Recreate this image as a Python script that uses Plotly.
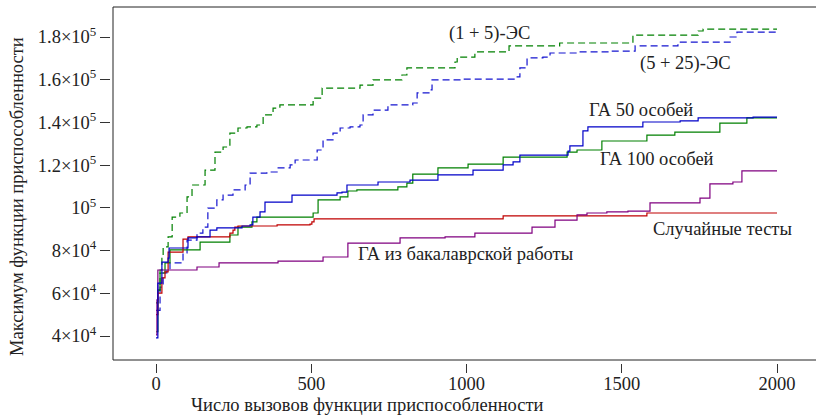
import plotly.graph_objects as go

# ---------------- data ----------------
es15_x = [0, 6, 13, 19, 23, 39, 52, 77, 100, 116, 158, 190, 216, 238, 264, 293, 325, 345, 377, 399,
          506, 535, 657, 699, 792, 808, 963, 970, 1027, 1137, 1300, 1536, 1746, 1762, 2000]
es15_y = [55500, 61500, 70900, 77900, 81700, 86400, 95700, 97600, 105100, 110700, 117700, 126100,
          128500, 135000, 137400, 137900, 138800, 143500, 146700, 148200, 151400, 156100, 157500,
          159900, 162200, 165500, 168300, 170600, 173000, 175800, 177200, 180900, 182800, 183700, 183700]

es525_x = [0, 13, 23, 35, 45, 87, 100, 132, 151, 167, 196, 216, 248, 287, 303, 357, 390, 432, 448,
           519, 538, 570, 593, 625, 657, 667, 699, 747, 827, 841, 882, 889, 989, 1156, 1172, 1195,
           1246, 1269, 1359, 1462, 1543, 1681, 1849, 1871, 2000]
es525_y = [52000, 62900, 69500, 70900, 74200, 78900, 84900, 88200, 91000, 99900, 103700, 106000,
           108400, 110700, 116300, 116800, 118700, 120100, 122400, 127100, 131800, 135000, 137400,
           137900, 138800, 143500, 145800, 148200, 149100, 153800, 155200, 159900, 160300, 161300,
           165500, 170200, 170600, 172500, 173000, 173400, 175800, 177600, 180000, 182300, 182300]

ga50_x = [0, 6, 19, 39, 42, 103, 132, 174, 196, 277, 303, 312, 335, 351, 438, 583, 599, 615, 715,
          818, 908, 1021, 1118, 1150, 1172, 1327, 1333, 1375, 1391, 1568, 1688, 1746, 1923, 2000]
ga50_y = [39100, 64800, 74600, 76500, 81200, 85900, 86400, 89600, 90600, 91500, 92000, 95700,
          98100, 102700, 106000, 107000, 107400, 110700, 112100, 113000, 115400, 117700, 120100,
          121500, 124700, 126600, 129000, 136000, 137900, 140200, 140700, 142100, 142500, 142500]

ga100_x = [0, 6, 13, 29, 45, 142, 238, 264, 309, 325, 506, 522, 593, 618, 647, 779, 808, 827, 908,
           1005, 1118, 1324, 1356, 1436, 1581, 1671, 1816, 1903, 2000]
ga100_y = [42000, 61500, 69500, 74200, 80300, 84000, 87300, 91000, 93400, 95700, 97600, 103700,
           105100, 107900, 108400, 109800, 111600, 115800, 118700, 120500, 123800, 126100, 127100,
           131300, 134100, 135500, 139700, 142100, 142100]

rnd_x = [0, 6, 19, 29, 39, 87, 103, 238, 248, 254, 264, 390, 496, 502, 509, 1118, 1581, 2000]
rnd_y = [50000, 60100, 67200, 70000, 79300, 85400, 86400, 88200, 89600, 91000, 91500, 92000,
         92400, 93400, 94800, 96200, 97600, 97600]

bach_x = [0, 3, 6, 132, 203, 393, 538, 618, 786, 931, 1027, 1211, 1285, 1356, 1388, 1452, 1520,
          1591, 1752, 1784, 1858, 1887, 2000]
bach_y = [40500, 56900, 70900, 72300, 74200, 75100, 77000, 83500, 85900, 86400, 88200, 91000,
          94300, 96700, 97600, 98100, 98500, 102300, 104600, 111200, 112100, 117300, 117300]

x_ticks = [0, 500, 1000, 1500, 2000]
y_ticks = [40000, 60000, 80000, 100000, 120000, 140000, 160000, 180000]
y_ticklabels = ["4×10<sup>4</sup>", "6×10<sup>4</sup>", "8×10<sup>4</sup>", "10<sup>5</sup>",
                "1.2×10<sup>5</sup>", "1.4×10<sup>5</sup>", "1.6×10<sup>5</sup>", "1.8×10<sup>5</sup>"]

labels = ["(1 + 5)-ЭС", "(5 + 25)-ЭС", "ГА 50 особей", "ГА 100 особей",
          "Случайные тесты", "ГА из бакалаврской работы"]

# ---------------- figure ----------------
W, H = 816, 415
FONT = "Liberation Serif"
FS = 18.5


def px(x):
    return x / W


def py(y):
    return 1 - y / H


series = [
    (es15_x, es15_y, "#008000", "7px,4px"),
    (es525_x, es525_y, "#1515d0", "7px,4px"),
    (ga100_x, ga100_y, "#008000", "solid"),
    (rnd_x, rnd_y, "#c00000", "solid"),
    (bach_x, bach_y, "#800080", "solid"),
    (ga50_x, ga50_y, "#0000c8", "solid"),
]

fig = go.Figure()
for xs, ys, col, dash in series:
    fig.add_trace(go.Scatter(x=xs, y=ys, mode="lines", line_shape="hv",
                             line=dict(color=col, width=1.2, dash=dash),
                             showlegend=False, hoverinfo="skip"))

# plot-area geometry (pixels)
L, R, T, B = 113, 816, 7, 360

fig.update_layout(
    width=W, height=H,
    margin=dict(l=0, r=0, t=0, b=0),
    paper_bgcolor="white", plot_bgcolor="white",
    font=dict(family=FONT, size=FS, color="#222"),
    xaxis=dict(domain=[px(L), px(R)], range=[-138.5, 2125.6],
               tickvals=x_ticks, ticktext=[str(v) for v in x_ticks],
               ticks="outside", ticklen=9, tickwidth=1, tickcolor="#333",
               ticklabelstandoff=-5,
               showgrid=False, zeroline=False, showline=False,
               anchor="free", position=py(363),
               tickfont=dict(family=FONT, size=FS, color="#222")),
    yaxis=dict(domain=[py(B), py(T)], range=[28763, 194046],
               tickvals=y_ticks, ticktext=y_ticklabels,
               ticks="outside", ticklen=10, tickwidth=1, tickcolor="#333",
               showgrid=False, zeroline=False, showline=False,
               anchor="free", position=px(110),
               tickfont=dict(family=FONT, size=FS, color="#222")),
)

# frame (top, left, bottom)
for x0, y0, x1, y1 in [(L, T, R, T), (L, T, L, B), (L, B, R, B)]:
    fig.add_shape(type="line", xref="paper", yref="paper",
                  x0=px(x0), y0=py(y0), x1=px(x1), y1=py(y1),
                  line=dict(color="#222", width=1))

# curve labels
label_pos = [(489, 33), (685, 63), (641, 110), (657, 159), (722, 229), (465, 254)]
for txt, (lx, ly) in zip(labels, label_pos):
    fig.add_annotation(text=txt, xref="paper", yref="paper", x=px(lx), y=py(ly),
                       xanchor="center", yanchor="middle", showarrow=False,
                       font=dict(family=FONT, size=FS, color="#222"))

# axis titles
fig.add_annotation(text="Число вызовов функции приспособленности", xref="paper", yref="paper",
                   x=px(367), y=py(405), xanchor="center", yanchor="middle", showarrow=False,
                   font=dict(family=FONT, size=FS, color="#222"))
fig.add_annotation(text="Максимум функции приспособленности", xref="paper", yref="paper",
                   x=px(17), y=py(197), xanchor="center", yanchor="middle", showarrow=False,
                   textangle=-90, font=dict(family=FONT, size=FS, color="#222"))

fig.write_html("out.html")
